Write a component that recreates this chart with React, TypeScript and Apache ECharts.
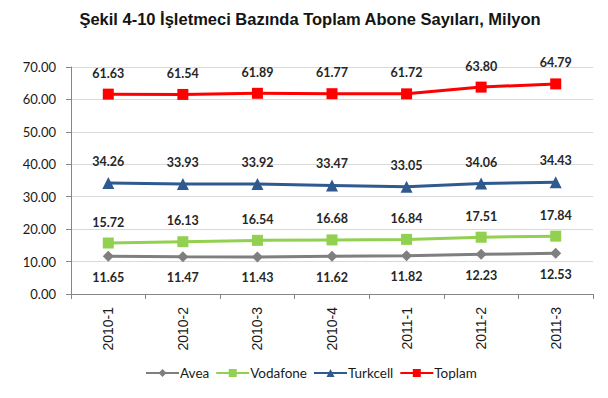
import React, { useEffect, useRef } from "react";
import * as echarts from "echarts";

const categories = ["2010-1", "2010-2", "2010-3", "2010-4", "2011-1", "2011-2", "2011-3"];
const avea = [11.65, 11.47, 11.43, 11.62, 11.82, 12.23, 12.53];
const vodafone = [15.72, 16.13, 16.54, 16.68, 16.84, 17.51, 17.84];
const turkcell = [34.26, 33.93, 33.92, 33.47, 33.05, 34.06, 34.43];
const toplam = [61.63, 61.54, 61.89, 61.77, 61.72, 63.8, 64.79];

const titleText = "Şekil 4-10 İşletmeci Bazında Toplam Abone Sayıları, Milyon";

export default function App() {
  const ref = useRef<HTMLDivElement>(null);
  useEffect(() => {
    if (!ref.current) return;
    const chart = echarts.init(ref.current, null, { renderer: "svg" });
    const labelStyle = (pos: "top" | "bottom") => ({
      show: true,
      position: pos,
      distance: 9,
      fontFamily: "Lato",
      fontWeight: "bold" as const,
      fontSize: 12.5,
      color: "#262626",
      formatter: (p: any) => Number(p.value).toFixed(2),
    });
    const mk = (name: string, data: number[], color: string, symbol: string, size: number, pos: "top" | "bottom") => ({
      name,
      type: "line" as const,
      data,
      symbol,
      symbolSize: size,
      lineStyle: { color, width: 3 },
      itemStyle: { color },
      label: labelStyle(pos),
    });
    chart.setOption({
      animation: false,
      backgroundColor: "#ffffff",
      graphic: [
        {
          type: "text",
          x: 310,
          y: 19,
          style: {
            text: titleText,
            align: "center",
            verticalAlign: "middle",
            fontFamily: "Liberation Sans",
            fontWeight: "bold",
            fontSize: 16.5,
            fill: "#141414",
          },
        },
      ],
      grid: { left: 71, right: 15, top: 67, bottom: 104 },
      xAxis: {
        type: "category",
        data: categories,
        boundaryGap: true,
        axisLine: { lineStyle: { color: "#868686", width: 1 } },
        axisTick: { show: true, length: 5, lineStyle: { color: "#868686" } },
        axisLabel: {
          rotate: 90,
          margin: 13,
          fontFamily: "Liberation Sans",
          fontSize: 14,
          color: "#1a1a1a",
        },
      },
      yAxis: {
        type: "value",
        min: 0,
        max: 70,
        interval: 10,
        axisLine: { show: true, lineStyle: { color: "#868686", width: 1 } },
        axisTick: { show: true, length: 5, lineStyle: { color: "#868686" } },
        splitLine: { lineStyle: { color: "#d9d9d9", width: 1 } },
        axisLabel: {
          margin: 15,
          fontFamily: "Lato",
          fontSize: 13,
          color: "#1a1a1a",
          formatter: (v: number) => v.toFixed(2),
        },
      },
      legend: {
        bottom: 13,
        left: 140,
        itemWidth: 33,
        itemHeight: 10,
        itemGap: 6,
        textStyle: { fontFamily: "Lato", fontSize: 13.5, color: "#1a1a1a", padding: [0, 0, 0, -4] },
        data: ["Avea", "Vodafone", "Turkcell", "Toplam"],
      },
      series: [
        mk("Avea", avea, "#7f7f7f", "diamond", 11, "bottom"),
        mk("Vodafone", vodafone, "#92d050", "rect", 11, "top"),
        mk("Turkcell", turkcell, "#2f5a8f", "triangle", 12, "top"),
        mk("Toplam", toplam, "#ff0000", "rect", 11, "top"),
      ],
    });
    return () => chart.dispose();
  }, []);
  return <div ref={ref} style={{ width: 608, height: 398, position: "absolute", left: 0, top: 0 }} />;
}
